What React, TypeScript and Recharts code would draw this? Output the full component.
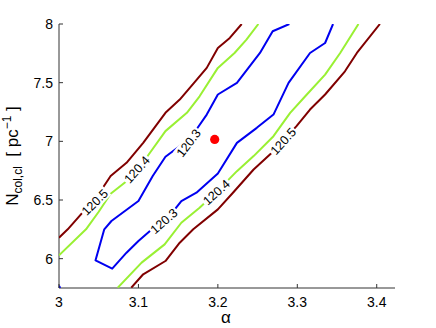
import React from 'react';
import { ScatterChart, Scatter, XAxis, YAxis } from 'recharts';

const X_TICKS = [3, 3.1, 3.2, 3.3, 3.4];
const X_TICK_LABELS = ['3', '3.1', '3.2', '3.3', '3.4'];
const Y_TICKS = [6, 6.5, 7, 7.5, 8];
const Y_TICK_LABELS = ['6', '6.5', '7', '7.5', '8'];
const X_DOMAIN = [3, 3.423];
const Y_DOMAIN = [5.75, 8];

// contour 120.5 (upper-left branch)
const c1205Left = [
  { x: 3.0, y: 6.179 }, { x: 3.011, y: 6.25 }, { x: 3.034, y: 6.426 }, { x: 3.051, y: 6.562 },
  { x: 3.065, y: 6.704 }, { x: 3.085, y: 6.817 }, { x: 3.106, y: 6.987 }, { x: 3.134, y: 7.243 },
  { x: 3.152, y: 7.356 }, { x: 3.17, y: 7.498 }, { x: 3.186, y: 7.626 }, { x: 3.2, y: 7.796 },
  { x: 3.215, y: 7.881 }, { x: 3.23, y: 8.0 },
];
// contour 120.4 (upper-left branch)
const c1204Left = [
  { x: 3.0, y: 6.028 }, { x: 3.034, y: 6.25 }, { x: 3.05, y: 6.4 }, { x: 3.065, y: 6.553 },
  { x: 3.085, y: 6.66 }, { x: 3.11, y: 6.86 }, { x: 3.134, y: 7.087 }, { x: 3.161, y: 7.243 },
  { x: 3.177, y: 7.384 }, { x: 3.2, y: 7.626 }, { x: 3.221, y: 7.753 }, { x: 3.236, y: 7.867 },
  { x: 3.251, y: 8.0 },
];
// contour 120.3 (closed loop, open at the top)
const c1203 = [
  { x: 3.29, y: 8.0 }, { x: 3.269, y: 7.938 }, { x: 3.253, y: 7.753 }, { x: 3.224, y: 7.498 },
  { x: 3.2, y: 7.399 }, { x: 3.186, y: 7.228 }, { x: 3.173, y: 7.101 }, { x: 3.15, y: 6.95 },
  { x: 3.134, y: 6.868 }, { x: 3.118, y: 6.704 }, { x: 3.1, y: 6.491 }, { x: 3.066, y: 6.321 },
  { x: 3.057, y: 6.25 }, { x: 3.046, y: 5.986 }, { x: 3.067, y: 5.915 }, { x: 3.085, y: 6.051 },
  { x: 3.1, y: 6.15 }, { x: 3.117, y: 6.25 }, { x: 3.135, y: 6.33 }, { x: 3.144, y: 6.406 },
  { x: 3.154, y: 6.491 }, { x: 3.173, y: 6.562 }, { x: 3.2, y: 6.726 }, { x: 3.224, y: 6.987 },
  { x: 3.249, y: 7.115 }, { x: 3.27, y: 7.228 }, { x: 3.289, y: 7.498 }, { x: 3.316, y: 7.753 },
  { x: 3.335, y: 7.838 }, { x: 3.345, y: 8.0 },
];
// contour 120.3 small piece at the lower-left corner
const c1203Corner = [
  { x: 3.0, y: 5.77 }, { x: 3.0015, y: 5.75 },
];
// contour 120.4 (lower-right branch)
const c1204Right = [
  { x: 3.074, y: 5.753 }, { x: 3.104, y: 5.966 }, { x: 3.133, y: 6.122 }, { x: 3.154, y: 6.306 },
  { x: 3.177, y: 6.434 }, { x: 3.2, y: 6.58 }, { x: 3.224, y: 6.746 }, { x: 3.245, y: 6.874 },
  { x: 3.27, y: 7.044 }, { x: 3.291, y: 7.243 }, { x: 3.31, y: 7.384 }, { x: 3.335, y: 7.569 },
  { x: 3.354, y: 7.753 }, { x: 3.377, y: 8.0 },
];
// contour 120.5 (lower-right branch)
const c1205Right = [
  { x: 3.091, y: 5.753 }, { x: 3.106, y: 5.867 }, { x: 3.134, y: 5.98 }, { x: 3.152, y: 6.136 },
  { x: 3.169, y: 6.25 }, { x: 3.2, y: 6.42 }, { x: 3.219, y: 6.562 }, { x: 3.245, y: 6.76 },
  { x: 3.27, y: 6.916 }, { x: 3.299, y: 7.129 }, { x: 3.316, y: 7.271 }, { x: 3.335, y: 7.399 },
  { x: 3.36, y: 7.597 }, { x: 3.375, y: 7.753 }, { x: 3.404, y: 8.0 },
];
const bestFit = [{ x: 3.196, y: 7.016 }];

const contourLabels = [
  { x: 3.045, y: 6.482, text: '120.5' },
  { x: 3.098, y: 6.76, text: '120.4' },
  { x: 3.163, y: 6.987, text: '120.3' },
  { x: 3.132, y: 6.321, text: '120.3' },
  { x: 3.198, y: 6.567, text: '120.4' },
  { x: 3.282, y: 7.001, text: '120.5' },
];
const LABEL_ANGLES = [-45, -48, -52, -41, -42, -48];

const DARK_RED = '#800000';
const GREEN = '#99f033';
const BLUE = '#0000f0';
const AXIS = '#333333';
const FONT = 'Liberation Sans, Arial, Helvetica, sans-serif';

const noPoint = () => <g />;

const BottomTick = (p: any) => (
  <g>
    <line x1={p.x} y1={p.y} x2={p.x} y2={p.y - 4} stroke={AXIS} />
    <text x={p.x} y={p.y + 19} textAnchor="middle" fontSize={14} fontFamily={FONT} fill="#000">
      {X_TICK_LABELS[p.index]}
    </text>
  </g>
);
const TopTick = (p: any) => (
  <line x1={p.x} y1={p.y} x2={p.x} y2={p.y + 4} stroke={AXIS} />
);
const LeftTick = (p: any) => (
  <g>
    <line x1={p.x} y1={p.y} x2={p.x + 4} y2={p.y} stroke={AXIS} />
    <text x={p.x - 6} y={p.y + 5} textAnchor="end" fontSize={14} fontFamily={FONT} fill="#000">
      {Y_TICK_LABELS[p.index]}
    </text>
  </g>
);
const RightTick = (p: any) => (
  <line x1={p.x} y1={p.y} x2={p.x - 4} y2={p.y} stroke={AXIS} />
);

const YLabel = (props: any) => {
  const vb = props.viewBox || { x: 0, y: 24, width: 59, height: 264 };
  const cx = 18;
  const cy = vb.y + vb.height / 2;
  return (
    <text
      x={cx}
      y={cy}
      transform={`rotate(-90, ${cx}, ${cy})`}
      textAnchor="middle"
      fontSize={17}
      fontFamily={FONT}
      fill="#000"
    >
      <tspan>N</tspan>
      <tspan fontSize={12} dy={4}>col,cl</tspan>
      <tspan dy={-4}>{'\u00a0\u00a0[ pc'}</tspan>
      <tspan fontSize={12} dy={-7}>{'\u22121'}</tspan>
      <tspan dy={7}>{' ]'}</tspan>
    </text>
  );
};

const XLabel = (props: any) => {
  const vb = props.viewBox || { x: 59, y: 288, width: 336, height: 40 };
  return (
    <text x={vb.x + vb.width / 2 - 1} y={323} textAnchor="middle" fontSize={17} fontFamily={FONT} fill="#000">
      α
    </text>
  );
};

const makeLabelShape = (angle: number) => (p: any) => (
  <g transform={`translate(${p.cx},${p.cy}) rotate(${angle})`}>
    <rect x={-17} y={-6.5} width={34} height={13} fill="#fff" />
    <text x={0} y={4.5} textAnchor="middle" fontSize={12.5} fontFamily={FONT} fill="#000">
      {p.payload.text}
    </text>
  </g>
);

const RedDot = (p: any) => <circle cx={p.cx} cy={p.cy} r={4.6} fill="#ff0000" />;

const lineSeries = [
  { data: c1205Left, color: DARK_RED },
  { data: c1204Left, color: GREEN },
  { data: c1203, color: BLUE },
  { data: c1203Corner, color: BLUE },
  { data: c1204Right, color: GREEN },
  { data: c1205Right, color: DARK_RED },
];

export default function App() {
  return (
    <div style={{ position: 'absolute', left: 0, top: 0, width: 436, height: 328, background: '#fff' }}>
      <ScatterChart width={436} height={328} margin={{ top: 24, right: 41, bottom: 0, left: 0 }}>
        <XAxis
          xAxisId="bottom"
          dataKey="x"
          type="number"
          orientation="bottom"
          domain={X_DOMAIN}
          ticks={X_TICKS}
          allowDataOverflow
          height={40}
          tickSize={0}
          tickMargin={0}
          tick={<BottomTick />}
          axisLine={{ stroke: AXIS }}
          tickLine={false}
          interval={0}
          label={<XLabel />}
        />
        <XAxis
          xAxisId="top"
          dataKey="x"
          type="number"
          orientation="top"
          domain={X_DOMAIN}
          ticks={X_TICKS}
          allowDataOverflow
          height={0}
          tickSize={0}
          tickMargin={0}
          tick={<TopTick />}
          axisLine={{ stroke: AXIS }}
          tickLine={false}
          interval={0}
        />
        <YAxis
          yAxisId="left"
          dataKey="y"
          type="number"
          orientation="left"
          domain={Y_DOMAIN}
          ticks={Y_TICKS}
          allowDataOverflow
          width={59}
          tickSize={0}
          tickMargin={0}
          tick={<LeftTick />}
          axisLine={{ stroke: AXIS }}
          tickLine={false}
          interval={0}
          label={<YLabel />}
        />
        <YAxis
          yAxisId="right"
          dataKey="y"
          type="number"
          orientation="right"
          domain={Y_DOMAIN}
          ticks={Y_TICKS}
          allowDataOverflow
          width={0}
          tickSize={0}
          tickMargin={0}
          tick={<RightTick />}
          axisLine={{ stroke: AXIS }}
          tickLine={false}
          interval={0}
        />
        {lineSeries.map((s, i) => (
          <Scatter
            key={`line-${i}`}
            xAxisId="bottom"
            yAxisId="left"
            data={s.data}
            line={{ stroke: s.color, strokeWidth: 2, strokeLinejoin: 'round' }}
            lineType="joint"
            shape={noPoint}
            isAnimationActive={false}
          />
        ))}
        {contourLabels.map((l, i) => (
          <Scatter
            key={`lab-${i}`}
            xAxisId="bottom"
            yAxisId="left"
            data={[l]}
            shape={makeLabelShape(LABEL_ANGLES[i])}
            isAnimationActive={false}
          />
        ))}
        <Scatter
          xAxisId="top"
          yAxisId="right"
          data={bestFit}
          shape={RedDot}
          isAnimationActive={false}
        />
      </ScatterChart>
    </div>
  );
}
